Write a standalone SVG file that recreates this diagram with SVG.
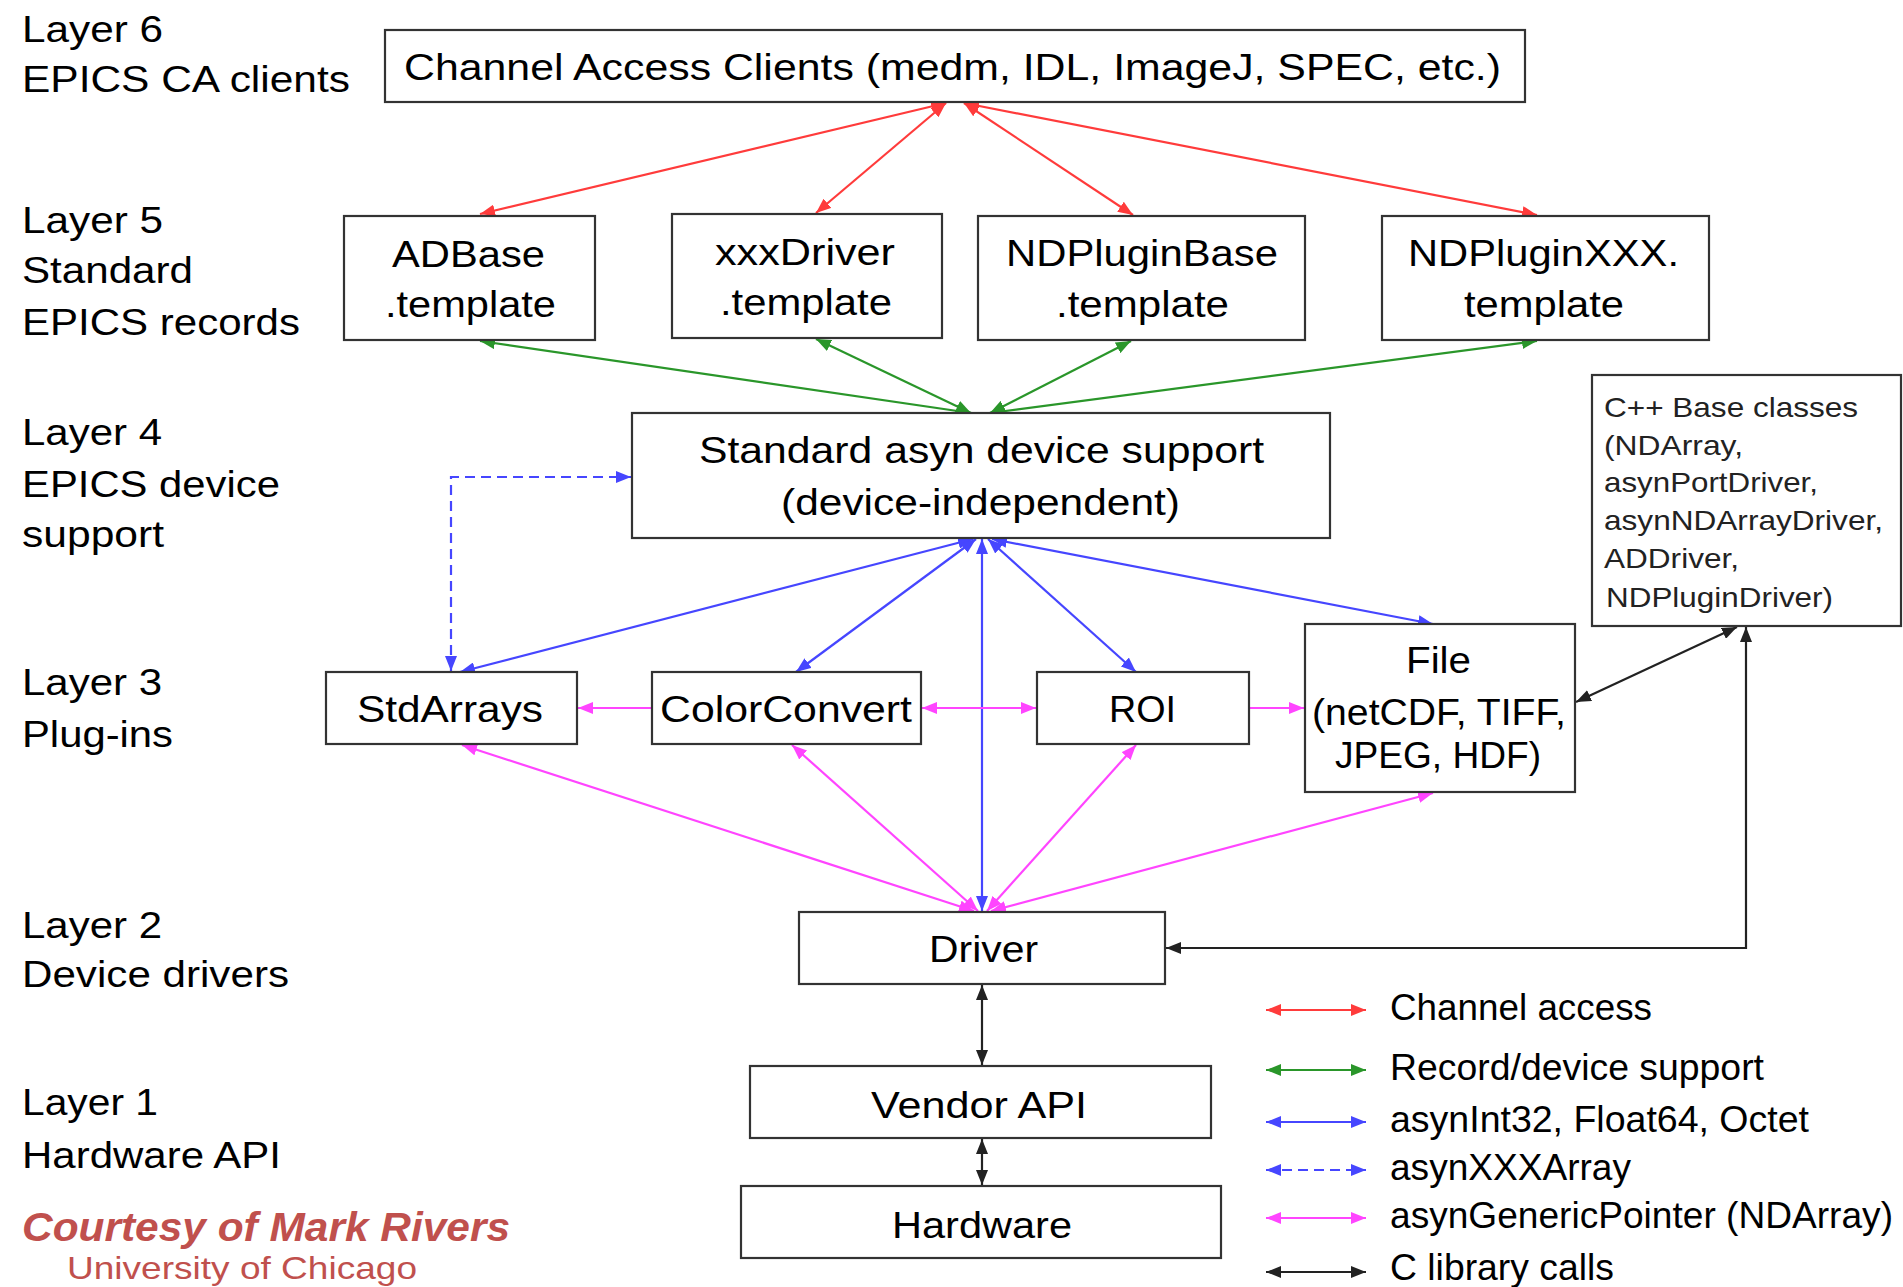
<svg xmlns="http://www.w3.org/2000/svg" width="1903" height="1287" viewBox="0 0 1903 1287">
<style>
text{font-family:"Liberation Sans",Arial,sans-serif;fill:#000;}
.t{font-size:37px;}
.lg{font-size:36px;}
.cpp{font-size:28px;fill:#222;}
.box{fill:#fff;stroke:#333;stroke-width:2.2;}
.c{fill:none;stroke-width:2.2;}
.red{stroke:#ff3b3b;}
.grn{stroke:#2a962a;}
.blu{stroke:#4646ff;}
.mag{stroke:#ff45ff;}
.blk{stroke:#222;}
.dash{stroke-dasharray:10 6;}
.credit{fill:#c0504d;}
</style>
<defs>
<marker id="aR" viewBox="0 0 15 12" refX="15" refY="6" markerWidth="15" markerHeight="12" markerUnits="userSpaceOnUse" orient="auto-start-reverse"><path d="M0,0 L15,6 L0,12 z" fill="#ff3b3b"/></marker>
<marker id="aG" viewBox="0 0 15 12" refX="15" refY="6" markerWidth="15" markerHeight="12" markerUnits="userSpaceOnUse" orient="auto-start-reverse"><path d="M0,0 L15,6 L0,12 z" fill="#2a962a"/></marker>
<marker id="aB" viewBox="0 0 15 12" refX="15" refY="6" markerWidth="15" markerHeight="12" markerUnits="userSpaceOnUse" orient="auto-start-reverse"><path d="M0,0 L15,6 L0,12 z" fill="#4646ff"/></marker>
<marker id="aM" viewBox="0 0 15 12" refX="15" refY="6" markerWidth="15" markerHeight="12" markerUnits="userSpaceOnUse" orient="auto-start-reverse"><path d="M0,0 L15,6 L0,12 z" fill="#ff45ff"/></marker>
<marker id="aK" viewBox="0 0 15 12" refX="15" refY="6" markerWidth="15" markerHeight="12" markerUnits="userSpaceOnUse" orient="auto-start-reverse"><path d="M0,0 L15,6 L0,12 z" fill="#222"/></marker>
</defs>
<rect width="1903" height="1287" fill="#fff"/>

<g id="layer-labels">
<text class="t" x="22" y="42" textLength="141" lengthAdjust="spacingAndGlyphs">Layer 6</text>
<text class="t" x="22" y="92" textLength="328" lengthAdjust="spacingAndGlyphs">EPICS CA clients</text>
<text class="t" x="22" y="233" textLength="141" lengthAdjust="spacingAndGlyphs">Layer 5</text>
<text class="t" x="22" y="283" textLength="171" lengthAdjust="spacingAndGlyphs">Standard</text>
<text class="t" x="22" y="335" textLength="278" lengthAdjust="spacingAndGlyphs">EPICS records</text>
<text class="t" x="22" y="445" textLength="140" lengthAdjust="spacingAndGlyphs">Layer 4</text>
<text class="t" x="22" y="497" textLength="258" lengthAdjust="spacingAndGlyphs">EPICS device</text>
<text class="t" x="22" y="547" textLength="142" lengthAdjust="spacingAndGlyphs">support</text>
<text class="t" x="22" y="695" textLength="140" lengthAdjust="spacingAndGlyphs">Layer 3</text>
<text class="t" x="22" y="747" textLength="151" lengthAdjust="spacingAndGlyphs">Plug-ins</text>
<text class="t" x="22" y="938" textLength="140" lengthAdjust="spacingAndGlyphs">Layer 2</text>
<text class="t" x="22" y="987" textLength="267" lengthAdjust="spacingAndGlyphs">Device drivers</text>
<text class="t" x="22" y="1115" textLength="136" lengthAdjust="spacingAndGlyphs">Layer 1</text>
<text class="t" x="22" y="1168" textLength="259" lengthAdjust="spacingAndGlyphs">Hardware API</text>
</g>

<g id="credit">
<text class="credit" x="22" y="1241" font-size="40" font-weight="bold" font-style="italic" textLength="488" lengthAdjust="spacingAndGlyphs">Courtesy of Mark Rivers</text>
<text class="credit" x="67" y="1279" font-size="32" textLength="350" lengthAdjust="spacingAndGlyphs">University of Chicago</text>
</g>

<g id="connectors">
<!-- red: channel access -->
<line class="c red" x1="946" y1="103" x2="480" y2="214" marker-start="url(#aR)" marker-end="url(#aR)"/>
<line class="c red" x1="946" y1="103" x2="816" y2="213" marker-start="url(#aR)" marker-end="url(#aR)"/>
<line class="c red" x1="964" y1="103" x2="1133" y2="215" marker-start="url(#aR)" marker-end="url(#aR)"/>
<line class="c red" x1="964" y1="103" x2="1537" y2="215" marker-start="url(#aR)" marker-end="url(#aR)"/>
<!-- green: record/device support -->
<line class="c grn" x1="971" y1="413" x2="480" y2="341" marker-start="url(#aG)" marker-end="url(#aG)"/>
<line class="c grn" x1="971" y1="413" x2="816" y2="339" marker-start="url(#aG)" marker-end="url(#aG)"/>
<line class="c grn" x1="990" y1="413" x2="1131" y2="341" marker-start="url(#aG)" marker-end="url(#aG)"/>
<line class="c grn" x1="990" y1="413" x2="1537" y2="341" marker-start="url(#aG)" marker-end="url(#aG)"/>
<!-- blue: asynInt32 etc -->
<line class="c blu" x1="973" y1="539" x2="460" y2="672" marker-start="url(#aB)" marker-end="url(#aB)"/>
<line class="c blu" x1="976" y1="539" x2="796" y2="672" marker-start="url(#aB)" marker-end="url(#aB)"/>
<line class="c blu" x1="982" y1="539" x2="982" y2="911" marker-start="url(#aB)" marker-end="url(#aB)"/>
<line class="c blu" x1="988" y1="539" x2="1136" y2="672" marker-start="url(#aB)" marker-end="url(#aB)"/>
<line class="c blu" x1="992" y1="539" x2="1433" y2="624" marker-start="url(#aB)" marker-end="url(#aB)"/>
<!-- blue dashed: asynXXXArray -->
<path class="c blu dash" d="M451,671 L451,477 L631,477" marker-start="url(#aB)" marker-end="url(#aB)"/>
<!-- magenta: asynGenericPointer -->
<line class="c mag" x1="652" y1="708" x2="578" y2="708" marker-end="url(#aM)"/>
<line class="c mag" x1="922" y1="708" x2="1036" y2="708" marker-start="url(#aM)" marker-end="url(#aM)"/>
<line class="c mag" x1="1249" y1="708" x2="1304" y2="708" marker-end="url(#aM)"/>
<line class="c mag" x1="974" y1="911" x2="462" y2="745" marker-start="url(#aM)" marker-end="url(#aM)"/>
<line class="c mag" x1="978" y1="911" x2="792" y2="745" marker-start="url(#aM)" marker-end="url(#aM)"/>
<line class="c mag" x1="987" y1="911" x2="1136" y2="745" marker-start="url(#aM)" marker-end="url(#aM)"/>
<line class="c mag" x1="991" y1="911" x2="1433" y2="793" marker-start="url(#aM)" marker-end="url(#aM)"/>
<!-- black: C library calls -->
<line class="c blk" x1="1576" y1="702" x2="1737" y2="627" marker-start="url(#aK)" marker-end="url(#aK)"/>
<path class="c blk" d="M1746,627 L1746,948 L1166,948" marker-start="url(#aK)" marker-end="url(#aK)"/>
<line class="c blk" x1="982" y1="985" x2="982" y2="1065" marker-start="url(#aK)" marker-end="url(#aK)"/>
<line class="c blk" x1="982" y1="1139" x2="982" y2="1185" marker-start="url(#aK)" marker-end="url(#aK)"/>
</g>

<g id="node-ca-clients">
<rect class="box" x="385" y="30" width="1140" height="72"/>
<text class="t" x="404" y="80" textLength="1097" lengthAdjust="spacingAndGlyphs">Channel Access Clients (medm, IDL, ImageJ, SPEC, etc.)</text>
</g>
<g id="node-adbase">
<rect class="box" x="344" y="216" width="251" height="124"/>
<text class="t" x="392" y="267" textLength="153" lengthAdjust="spacingAndGlyphs">ADBase</text>
<text class="t" x="385" y="317" textLength="171" lengthAdjust="spacingAndGlyphs">.template</text>
</g>
<g id="node-xxxdriver">
<rect class="box" x="672" y="214" width="270" height="124"/>
<text class="t" x="715" y="265" textLength="180" lengthAdjust="spacingAndGlyphs">xxxDriver</text>
<text class="t" x="720" y="315" textLength="172" lengthAdjust="spacingAndGlyphs">.template</text>
</g>
<g id="node-ndpluginbase">
<rect class="box" x="978" y="216" width="327" height="124"/>
<text class="t" x="1006" y="266" textLength="272" lengthAdjust="spacingAndGlyphs">NDPluginBase</text>
<text class="t" x="1056" y="317" textLength="173" lengthAdjust="spacingAndGlyphs">.template</text>
</g>
<g id="node-ndpluginxxx">
<rect class="box" x="1382" y="216" width="327" height="124"/>
<text class="t" x="1408" y="266" textLength="271" lengthAdjust="spacingAndGlyphs">NDPluginXXX.</text>
<text class="t" x="1464" y="317" textLength="160" lengthAdjust="spacingAndGlyphs">template</text>
</g>
<g id="node-asyn">
<rect class="box" x="632" y="413" width="698" height="125"/>
<text class="t" x="699" y="463" textLength="565" lengthAdjust="spacingAndGlyphs">Standard asyn device support</text>
<text class="t" x="781" y="515" textLength="399" lengthAdjust="spacingAndGlyphs">(device-independent)</text>
</g>
<g id="node-cpp">
<rect class="box" x="1592" y="375" width="309" height="251"/>
<text class="cpp" x="1604" y="417" textLength="254" lengthAdjust="spacingAndGlyphs">C++ Base classes</text>
<text class="cpp" x="1604" y="455" textLength="139" lengthAdjust="spacingAndGlyphs">(NDArray,</text>
<text class="cpp" x="1604" y="492" textLength="214" lengthAdjust="spacingAndGlyphs">asynPortDriver,</text>
<text class="cpp" x="1604" y="530" textLength="279" lengthAdjust="spacingAndGlyphs">asynNDArrayDriver,</text>
<text class="cpp" x="1604" y="568" textLength="135" lengthAdjust="spacingAndGlyphs">ADDriver,</text>
<text class="cpp" x="1606" y="607" textLength="227" lengthAdjust="spacingAndGlyphs">NDPluginDriver)</text>
</g>
<g id="node-stdarrays">
<rect class="box" x="326" y="672" width="251" height="72"/>
<text class="t" x="357" y="722" textLength="186" lengthAdjust="spacingAndGlyphs">StdArrays</text>
</g>
<g id="node-colorconvert">
<rect class="box" x="652" y="672" width="269" height="72"/>
<text class="t" x="660" y="722" textLength="252" lengthAdjust="spacingAndGlyphs">ColorConvert</text>
</g>
<g id="node-roi">
<rect class="box" x="1037" y="672" width="212" height="72"/>
<text class="t" x="1109" y="722" textLength="67" lengthAdjust="spacingAndGlyphs">ROI</text>
</g>
<g id="node-file">
<rect class="box" x="1305" y="624" width="270" height="168"/>
<text class="t" x="1406" y="673" textLength="65" lengthAdjust="spacingAndGlyphs">File</text>
<text class="t" x="1312" y="725" textLength="254" lengthAdjust="spacingAndGlyphs">(netCDF, TIFF,</text>
<text class="t" x="1335" y="768" textLength="206" lengthAdjust="spacingAndGlyphs">JPEG, HDF)</text>
</g>
<g id="node-driver">
<rect class="box" x="799" y="912" width="366" height="72"/>
<text class="t" x="929" y="962" textLength="109" lengthAdjust="spacingAndGlyphs">Driver</text>
</g>
<g id="node-vendor-api">
<rect class="box" x="750" y="1066" width="461" height="72"/>
<text class="t" x="871" y="1118" textLength="216" lengthAdjust="spacingAndGlyphs">Vendor API</text>
</g>
<g id="node-hardware">
<rect class="box" x="741" y="1186" width="480" height="72"/>
<text class="t" x="892" y="1238" textLength="180" lengthAdjust="spacingAndGlyphs">Hardware</text>
</g>

<g id="legend">
<line class="c red" x1="1266" y1="1010" x2="1366" y2="1010" marker-start="url(#aR)" marker-end="url(#aR)"/>
<line class="c grn" x1="1266" y1="1070" x2="1366" y2="1070" marker-start="url(#aG)" marker-end="url(#aG)"/>
<line class="c blu" x1="1266" y1="1122" x2="1366" y2="1122" marker-start="url(#aB)" marker-end="url(#aB)"/>
<line class="c blu dash" x1="1266" y1="1170" x2="1366" y2="1170" marker-start="url(#aB)" marker-end="url(#aB)"/>
<line class="c mag" x1="1266" y1="1218" x2="1366" y2="1218" marker-start="url(#aM)" marker-end="url(#aM)"/>
<line class="c blk" x1="1266" y1="1272" x2="1366" y2="1272" marker-start="url(#aK)" marker-end="url(#aK)"/>
<text class="lg" x="1390" y="1020" textLength="262" lengthAdjust="spacingAndGlyphs">Channel access</text>
<text class="lg" x="1390" y="1080" textLength="374" lengthAdjust="spacingAndGlyphs">Record/device support</text>
<text class="lg" x="1390" y="1132" textLength="419" lengthAdjust="spacingAndGlyphs">asynInt32, Float64, Octet</text>
<text class="lg" x="1390" y="1180" textLength="241" lengthAdjust="spacingAndGlyphs">asynXXXArray</text>
<text class="lg" x="1390" y="1228" textLength="503" lengthAdjust="spacingAndGlyphs">asynGenericPointer (NDArray)</text>
<text class="lg" x="1390" y="1280" textLength="224" lengthAdjust="spacingAndGlyphs">C library calls</text>
</g>
</svg>
